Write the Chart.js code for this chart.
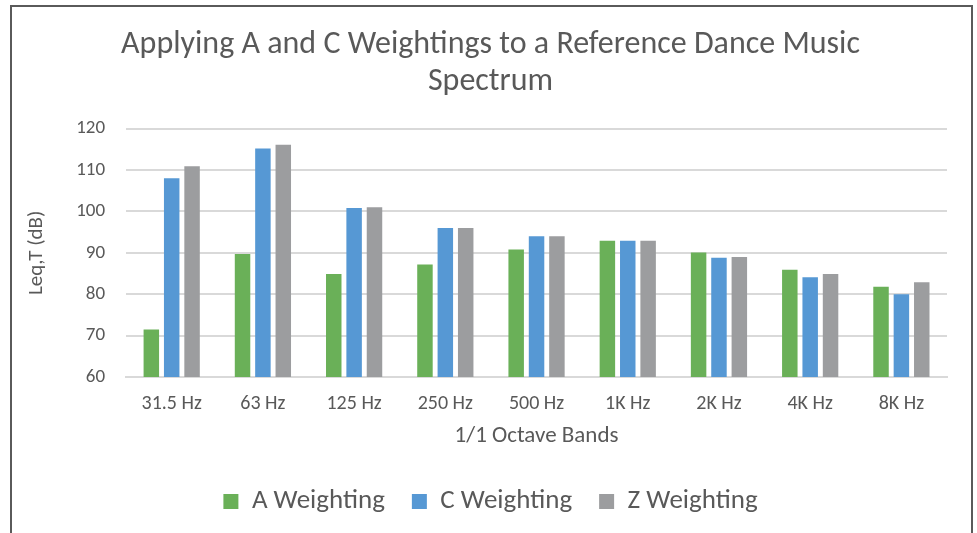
<!DOCTYPE html>
<html>
<head>
<meta charset="utf-8">
<script src="https://cdn.jsdelivr.net/npm/chart.js@4.4.1/dist/chart.umd.min.js"></script>
<style>
  html, body { margin: 0; padding: 0; background: #fff; }
  #wrap { position: relative; width: 977px; height: 533px; }
  #frame { position: absolute; left: 10px; top: 5px; width: 959px; height: 540px;
           border: 2px solid #5a5a5a; border-bottom: none; pointer-events: none; }
</style>
</head>
<body>
<div id="wrap">
  <canvas id="grafico" width="977" height="533"></canvas>
  <div id="frame"></div>
</div>
<script>
// bandas de octava y niveles
const bandas = ['31.5 Hz', '63 Hz', '125 Hz', '250 Hz', '500 Hz', '1K Hz', '2K Hz', '4K Hz', '8K Hz'];
const ponderacionA = [71.5, 89.7, 84.9, 87.2, 90.8, 92.9, 90.1, 85.9, 81.8];
const ponderacionC = [108, 115.2, 100.8, 96, 94, 92.9, 88.8, 84.1, 80];
const ponderacionZ = [110.9, 116.1, 101, 96, 94, 92.9, 89, 84.9, 82.9];
const ticksY = [60, 70, 80, 90, 100, 110, 120];

const fuente = "Carlito, Lato, 'Liberation Sans', sans-serif";
const gris = '#595959';

const ctx = document.getElementById('grafico').getContext('2d');
new Chart(ctx, {
    type: 'bar',
    data: {
        labels: bandas,
        datasets: [
            { label: 'A Weighting', data: ponderacionA, backgroundColor: '#6ab058' },
            { label: 'C Weighting', data: ponderacionC, backgroundColor: '#5698d4' },
            { label: 'Z Weighting', data: ponderacionZ, backgroundColor: '#9c9d9f' },
        ],
    },
    options: {
        responsive: false,
        animation: false,
        layout: { padding: { top: 27, left: 34, right: 30, bottom: 8 } },
        datasets: { bar: { categoryPercentage: 0.67, barPercentage: 0.76 } },
        plugins: {
            title: {
                display: true,
                text: ['Applying A and C Weightings to a Reference Dance Music', 'Spectrum'],
                color: gris,
                font: { family: fuente, size: 32, weight: 'normal', lineHeight: 1.15 },
                padding: { top: 0, bottom: 28 },
            },
            legend: {
                position: 'bottom',
                labels: {
                    color: gris,
                    font: { family: fuente, size: 27 },
                    boxWidth: 15,
                    boxHeight: 15,
                    padding: 27,
                },
            },
            tooltip: { enabled: false },
        },
        scales: {
            x: {
                grid: { display: false },
                border: { color: '#d9d9d9', width: 2 },
                ticks: { color: gris, font: { family: fuente, size: 20, lineHeight: 1 }, padding: 9 },
                title: {
                    display: true,
                    text: '1/1 Octave Bands',
                    color: gris,
                    font: { family: fuente, size: 23, lineHeight: 1 },
                    padding: { top: 2, bottom: 13 },
                },
            },
            y: {
                min: 60,
                max: 120,
                afterBuildTicks: (eje) => { eje.ticks = ticksY.map(v => ({ value: v })); },
                grid: { color: '#d9d9d9', lineWidth: 2, drawTicks: false },
                border: { display: false },
                ticks: { color: gris, font: { family: fuente, size: 19 }, padding: 21 },
                title: {
                    display: true,
                    text: 'Leq,T (dB)',
                    color: gris,
                    font: { family: fuente, size: 21 },
                    padding: { top: -10, bottom: 6 },
                },
            },
        },
    },
});
</script>
</body>
</html>
